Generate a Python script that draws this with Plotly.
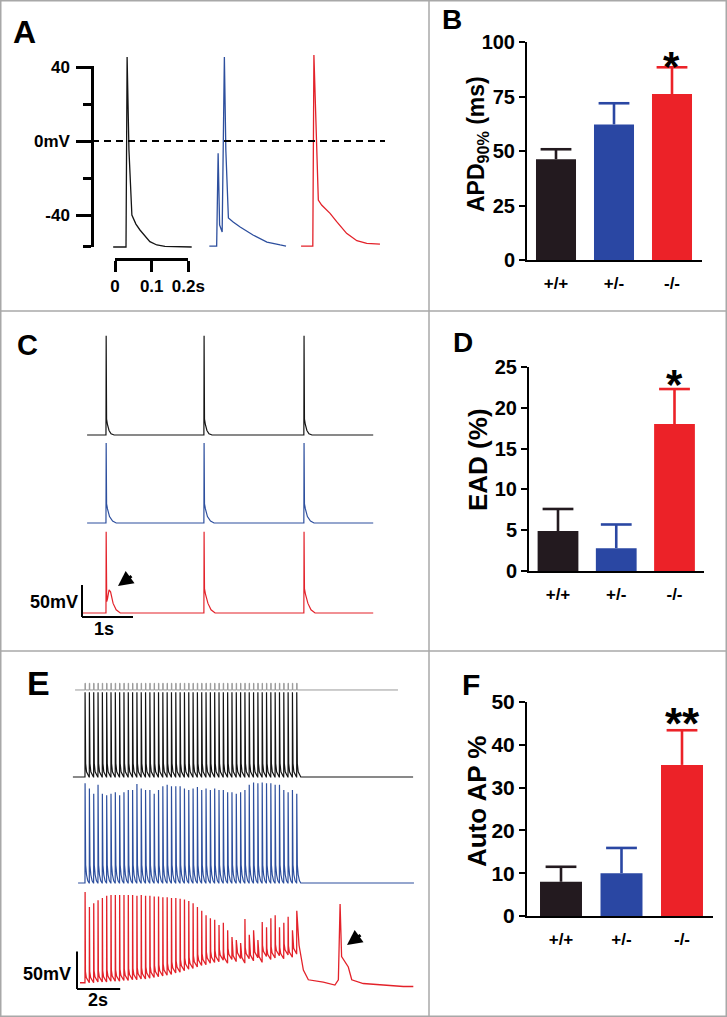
import plotly.graph_objects as go

W, H = 727, 1017


def fx(p):
    return p / W


def fy(p):
    return 1 - p / H


# ======================= DATA =======================
genotypes = ["+/+", "+/-", "-/-"]
bar_colors = ["#231a1f", "#2a47a3", "#ec2228"]
trace_colors = ["#141414", "#2d4f9e", "#e3222a"]

# Bar panels (mean, SEM)
apd90_mean = [46.2, 62.2, 76.1]
apd90_sem = [4.6, 9.7, 12.3]
ead_mean = [4.9, 2.8, 18.0]
ead_sem = [2.7, 2.9, 4.3]
auto_mean = [8.0, 10.0, 35.3]
auto_sem = [3.5, 5.9, 8.1]
sig_B = "*"
sig_D = "*"
sig_F = "**"

b_ticks = [0, 25, 50, 75, 100]
d_ticks = [0, 5, 10, 15, 20, 25]
f_ticks = [0, 10, 20, 30, 40, 50]

# Panel A: single action potentials (time in s, membrane potential in mV)
a_wt_t = [-0.005, 0.030, 0.033, 0.038, 0.046, 0.057, 0.068, 0.082, 0.095, 0.114, 0.136, 0.209]
a_wt_v = [-57.3, -57.3, 45.4, -4.9, -40.0, -44.9, -48.1, -51.4, -54.4, -56.2, -57.0, -57.3]
a_het_t = [0.257, 0.277, 0.281, 0.285, 0.292, 0.298, 0.302, 0.309, 0.322, 0.341, 0.376, 0.414, 0.450, 0.466]
a_het_v = [-56.8, -56.8, -6.6, -45.4, -49.2, 45.4, -4.9, -41.6, -43.8, -46.5, -50.8, -54.6, -56.2, -56.8]
a_ko_t = [0.507, 0.539, 0.542, 0.554, 0.563, 0.586, 0.604, 0.631, 0.659, 0.686, 0.722]
a_ko_v = [-56.8, -56.8, 46.5, -31.9, -34.6, -39.1, -43.6, -49.9, -53.9, -55.3, -55.7]
a_yticks = [40, 0, -40]
a_yticktext = ["40", "0mV", "-40"]
a_yminor = [20, -20, -57.2]
a_xticks = [0, 0.1, 0.2]
a_xticktext = ["0", "0.1", "0.2s"]

# Panel C: 0.5 Hz paced APs (time in s, deflection from rest in mV)
c_spike_times = [0.47, 2.39, 4.35]
c_wt_span = [0.10, 5.71]
c_het_span = [0.10, 5.71]
c_ko_span = [0.02, 5.71]
c_wt_tmpl_t = [0, 0.004, 0.012, 0.03, 0.06, 0.10, 0.16]
c_wt_tmpl_v = [0, 155, 25, 16, 7, 2, 0]
c_het_tmpl_t = [0, 0.004, 0.012, 0.03, 0.07, 0.13, 0.20]
c_het_tmpl_v = [0, 125, 30, 22, 10, 3, 0]
c_ko_tmpl_t = [0, 0.004, 0.012, 0.03, 0.08, 0.14, 0.22]
c_ko_tmpl_v = [0, 127, 38, 30, 15, 5, 0]
c_ko_ead_tmpl_t = [0, 0.004, 0.015, 0.03, 0.06, 0.09, 0.14, 0.20, 0.28]
c_ko_ead_tmpl_v = [0, 127, 18, 22, 36, 33, 15, 5, 0]
c_scale_mv = 50
c_scale_s = 1

# Panel E: 5 Hz burst pacing (time in s, deflection in mV)
e_stim_times = [0.37, 0.57, 0.77, 0.97, 1.17, 1.37, 1.57, 1.77, 1.97, 2.17,
                2.37, 2.57, 2.77, 2.97, 3.17, 3.37, 3.57, 3.77, 3.97, 4.17,
                4.37, 4.57, 4.77, 4.97, 5.17, 5.37, 5.57, 5.77, 5.97, 6.17,
                6.37, 6.57, 6.77, 6.97, 7.17, 7.37, 7.57, 7.77, 7.97, 8.17,
                8.37, 8.57, 8.77, 8.97, 9.17, 9.37, 9.57, 9.77, 9.97, 10.17]
e_stim_span = [-0.09, 14.86]
e_stim_pulse = 9
e_wt_span = [-0.19, 15.56]
e_wt_tmpl_t = [0, 0.004, 0.012, 0.03, 0.07, 0.13, 0.19]
e_wt_tmpl_v = [0, 113, 35, 18, 7, 2, 0]
e_het_span = [0.05, 15.6]
e_het_tmpl_t = [0, 0.004, 0.012, 0.03, 0.07, 0.13, 0.19]
e_het_tmpl_v = [0, 125, 48, 24, 11, 3, 0]
e_het_peaks = [133, 126, 119, 131, 119, 117, 119, 121, 117, 121,
               124, 124, 132, 126, 124, 124, 119, 124, 129, 131,
               129, 129, 129, 126, 124, 126, 128, 124, 126, 124,
               126, 124, 124, 121, 121, 119, 121, 124, 131, 134,
               133, 134, 133, 133, 131, 131, 124, 121, 124, 119]
e_ko_start = [0.14, 3]
e_ko_peaks = [124, 104, 109, 113, 116, 119, 120, 120, 120, 120,
              120, 120, 119, 120, 119, 119, 118, 118, 117, 117,
              116, 116, 115, 114, 112, 109, 104, 99, 93, 89,
              87, 80, 83, 73, 64, 60, 56, 88, 67, 73,
              60, 84, 77, 89, 93, 77, 83, 91, 73, 99]
e_ko_troughs = [3, 3, 3, 4, 4, 4, 5, 5, 5, 6,
                6, 7, 7, 8, 8, 9, 10, 11, 12, 13,
                14, 16, 17, 19, 21, 22, 24, 26, 27, 29,
                30, 31, 33, 29, 34, 32, 36, 30, 35, 33,
                37, 31, 38, 34, 36, 39, 35, 40, 37, 42]
e_ko_decay_t = [0.02, 0.06, 0.19]
e_ko_decay_v = [15, 7, 0]
e_ko_tail_t = [10.28, 10.48, 10.71, 11.40, 11.94, 12.10, 12.18, 12.25, 12.41, 12.56, 12.72, 13.25, 15.11, 15.57]
e_ko_tail_v = [53, 20, 7, 4, 0, 7, 108, 38, 31, 24, 7, 2, -2, -2]
e_scale_mv = 50
e_scale_s = 2

# ======================= LAYOUT CONSTANTS (pixels) =======================
A = dict(t0=115, pps=367, v0=141, ppm=1.85)
C = dict(t0=82, pps=51, v0=617, ppm=0.64)
E = dict(t0=77, pps=21.6, v0=989, ppm=0.75)
c_offsets = [284.4, 146.9, 6.25]
e_offsets = [282.7, 141.3, 5.3]
e_stim_offset = 398.7

FONT = "Liberation Sans"


def t_of(p, P):
    return (p - P["t0"]) / P["pps"]


def v_of(p, P):
    return (P["v0"] - p) / P["ppm"]


def train(span, times, tt, tv, peaks=None):
    xs, ys = [span[0]], [0.0]
    for i, ts in enumerate(times):
        vv = list(tv)
        if peaks is not None:
            vv[1] = peaks[i]
        for dt, dv in zip(tt, vv):
            xs.append(ts + dt)
            ys.append(dv)
    xs.append(span[1])
    ys.append(0.0)
    return xs, ys


def line(x, y, color, ax, width=1.3):
    return go.Scatter(x=x, y=y, mode="lines", line=dict(color=color, width=width),
                      xaxis="x" + ax, yaxis="y" + ax, hoverinfo="skip", showlegend=False)


fig = go.Figure()

# ---------- Panel A ----------
for t, v, c in [(a_wt_t, a_wt_v, trace_colors[0]), (a_het_t, a_het_v, trace_colors[1]),
                (a_ko_t, a_ko_v, trace_colors[2])]:
    fig.add_trace(line(t, v, c, ""))
fig.add_trace(go.Scatter(x=[None], y=[None], xaxis="x2", yaxis="y2", showlegend=False, hoverinfo="skip"))

# ---------- Panel C ----------
xs, ys = train(c_wt_span, c_spike_times, c_wt_tmpl_t, c_wt_tmpl_v)
fig.add_trace(line(xs, [v + c_offsets[0] for v in ys], trace_colors[0], "4", 1.2))
xs, ys = train(c_het_span, c_spike_times, c_het_tmpl_t, c_het_tmpl_v)
fig.add_trace(line(xs, [v + c_offsets[1] for v in ys], trace_colors[1], "4", 1.2))
xs, ys = [c_ko_span[0]], [0.0]
for i, ts in enumerate(c_spike_times):
    tt, tv = (c_ko_ead_tmpl_t, c_ko_ead_tmpl_v) if i == 0 else (c_ko_tmpl_t, c_ko_tmpl_v)
    for dt, dv in zip(tt, tv):
        xs.append(ts + dt)
        ys.append(dv)
xs.append(c_ko_span[1])
ys.append(0.0)
fig.add_trace(line(xs, [v + c_offsets[2] for v in ys], trace_colors[2], "4", 1.2))

# ---------- Panel E ----------
sx, sy = [e_stim_span[0]], [0]
for ts in e_stim_times:
    sx += [ts, ts, ts + 0.02, ts + 0.02]
    sy += [0, e_stim_pulse, e_stim_pulse, 0]
sx.append(e_stim_span[1])
sy.append(0)
fig.add_trace(line(sx, [v + e_stim_offset for v in sy], "#9a9a9a", "6", 1.0))

xs, ys = train(e_wt_span, e_stim_times, e_wt_tmpl_t, e_wt_tmpl_v)
fig.add_trace(line(xs, [v + e_offsets[0] for v in ys], trace_colors[0], "6", 1.2))
xs, ys = train(e_het_span, e_stim_times, e_het_tmpl_t, e_het_tmpl_v, e_het_peaks)
fig.add_trace(line(xs, [v + e_offsets[1] for v in ys], trace_colors[1], "6", 1.2))

xs, ys = [e_ko_start[0]], [e_ko_start[1]]
n = len(e_stim_times)
for k in range(n):
    ts = e_stim_times[k]
    xs += [ts, ts + 0.005]
    ys += [e_ko_troughs[k], e_ko_peaks[k]]
    if k < n - 1:
        nxt = e_ko_troughs[k + 1]
        for dt, dv in zip(e_ko_decay_t, e_ko_decay_v):
            xs.append(ts + dt)
            ys.append(nxt + dv)
xs += e_ko_tail_t
ys += e_ko_tail_v
fig.add_trace(line(xs, [v + e_offsets[2] for v in ys], trace_colors[2], "6", 1.3))

# ---------- Bar panels ----------
for ax, means, sems in [("3", apd90_mean, apd90_sem), ("5", ead_mean, ead_sem), ("7", auto_mean, auto_sem)]:
    bw = {"3": 0.69, "5": 0.70, "7": 0.694}[ax]
    for g, m, s, col in zip(genotypes, means, sems, bar_colors):
        fig.add_trace(go.Bar(
            x=[g], y=[m], width=bw, marker=dict(color=col, line=dict(width=0)),
            error_y=dict(type="data", array=[s], arrayminus=[0], symmetric=False,
                         color=col, thickness=2.6, width=0),
            xaxis="x" + ax, yaxis="y" + ax, hoverinfo="skip", showlegend=False))
        # error-bar cap (top only)
        fig.add_trace(go.Scatter(
            x=[g], y=[m + s], mode="markers",
            marker=dict(symbol="line-ew", size=22, line=dict(color=col, width=2.6)),
            xaxis="x" + ax, yaxis="y" + ax, hoverinfo="skip", showlegend=False, cliponaxis=False))

# ======================= AXES =======================
hidden = dict(visible=False, showgrid=False, zeroline=False, automargin=False)
bold = lambda s: dict(family=FONT, size=s, color="black", weight="bold")

layout_axes = dict(
    xaxis=dict(domain=[0, fx(429)], range=[t_of(0, A), t_of(429, A)], anchor="y", **hidden),
    yaxis=dict(domain=[fy(311), fy(0)], range=[v_of(311, A), v_of(0, A)], anchor="x", **hidden),
    xaxis2=dict(domain=[fx(A["t0"]), fx(A["t0"] + 0.2 * A["pps"])], range=[0, 0.2], anchor="free",
                position=fy(259), showline=True, linewidth=2.5, linecolor="black", ticks="outside",
                ticklen=11, tickwidth=2.5, tickcolor="black", tickvals=a_xticks, ticktext=a_xticktext,
                tickfont=bold(17), showgrid=False, zeroline=False, automargin=False),
    yaxis2=dict(domain=[fy(247), fy(66)], range=[v_of(247, A), v_of(66, A)], anchor="free",
                position=fx(92), showline=True, linewidth=2.5, linecolor="black", ticks="outside",
                ticklen=15, tickwidth=2.5, tickcolor="black", tickvals=a_yticks, ticktext=a_yticktext,
                minor=dict(tickvals=a_yminor, ticks="outside", ticklen=8, tickwidth=2.5, tickcolor="black"),
                ticklabelstandoff=3, tickfont=bold(17), showgrid=False, zeroline=False, automargin=False),
    xaxis4=dict(domain=[0, fx(429)], range=[t_of(0, C), t_of(429, C)], anchor="y4", **hidden),
    yaxis4=dict(domain=[fy(651), fy(311)], range=[v_of(651, C), v_of(311, C)], anchor="x4", **hidden),
    xaxis6=dict(domain=[0, fx(429)], range=[t_of(0, E), t_of(429, E)], anchor="y6", **hidden),
    yaxis6=dict(domain=[fy(1017), fy(651)], range=[v_of(1017, E), v_of(651, E)], anchor="x6", **hidden),
)


def bar_axes(ax, x0, x1, c0, step, ytop, ybot, yrange, ticks, tfs):
    xa = dict(domain=[fx(x0), fx(x1)], range=[(x0 - c0) / step, (x1 - c0) / step], anchor="y" + ax,
              type="category", categoryorder="array", categoryarray=genotypes,
              showline=True, linewidth=2, linecolor="black", ticks="", ticklabelstandoff=7,
              tickfont=bold(17), showgrid=False, zeroline=False, automargin=False)
    ya = dict(domain=[fy(ybot), fy(ytop)], range=yrange, anchor="x" + ax, showline=True, linewidth=2,
              linecolor="black", ticks="outside", ticklen=6, tickwidth=2, tickcolor="black",
              tickvals=ticks, tickfont=bold(tfs), showgrid=False, zeroline=False, automargin=False)
    return xa, ya


layout_axes["xaxis3"], layout_axes["yaxis3"] = bar_axes("3", 527, 702, 556, 58, 42, 260, [0, 100], b_ticks, 20)
layout_axes["xaxis5"], layout_axes["yaxis5"] = bar_axes("5", 529, 704, 558, 58.25, 367, 571, [0, 25], d_ticks, 20)
layout_axes["xaxis7"], layout_axes["yaxis7"] = bar_axes("7", 527, 713, 561, 60.5, 702, 916, [0, 50], f_ticks, 21)

# ======================= SHAPES =======================
shapes = []
gray = dict(color="#a8a8a8", width=1.5)
shapes.append(dict(type="rect", xref="paper", yref="paper", x0=fx(0.75), x1=fx(726.25), y0=fy(1016.25), y1=fy(0.75), line=gray))
shapes.append(dict(type="line", xref="paper", yref="paper", x0=fx(429), x1=fx(429), y0=0, y1=1, line=gray))
for yy in (311, 651):
    shapes.append(dict(type="line", xref="paper", yref="paper", x0=0, x1=1, y0=fy(yy), y1=fy(yy), line=gray))
# dashed 0 mV line in A
shapes.append(dict(type="line", xref="x", yref="y", x0=t_of(92, A), x1=t_of(385, A), y0=0, y1=0,
                   line=dict(color="black", width=2, dash="7px,5px")))
# scale bars C and E
for ax, smv, ss in [("4", c_scale_mv, c_scale_s), ("6", e_scale_mv, e_scale_s)]:
    shapes.append(dict(type="line", xref="x" + ax, yref="y" + ax, x0=0, x1=0, y0=0, y1=smv, line=dict(color="black", width=2)))
    shapes.append(dict(type="line", xref="x" + ax, yref="y" + ax, x0=0, x1=ss, y0=0, y1=0, line=dict(color="black", width=2)))

# ======================= ANNOTATIONS =======================
ann = []


def text(s, x, y, size, xanchor="center", angle=0):
    ann.append(dict(text=s, x=fx(x), y=fy(y), xref="paper", yref="paper", showarrow=False,
                    xanchor=xanchor, yanchor="middle", textangle=angle, font=bold(size)))


for lab, x, y, s in [("A", 11, 31.5, 32), ("B", 440, 19.5, 28), ("C", 15, 345, 29),
                     ("D", 451, 342, 28), ("E", 25, 682.5, 34), ("F", 460, 684, 30)]:
    text(lab, x, y, s, "left")

text("APD<sub>90%</sub> (ms)", 477, 144, 23, angle=-90)
text("EAD (%)", 478, 460, 26, angle=-90)
text("Auto AP %", 477, 802, 26, angle=-90)

text(sig_B, 671.7, 66, 42)
text(sig_D, 674.5, 385, 42)
text(sig_F, 682.5, 723, 44)

text("50mV", 80, 601.5, 18, "right")
text("1s", 104, 628.5, 18)
text("50mV", 73, 974, 18, "right")
text("2s", 98, 1000, 18)

for hx, hy in [(118, 586), (347, 945)]:
    ann.append(dict(x=fx(hx), y=fy(hy), xref="paper", yref="paper", text="", showarrow=True,
                    ax=15, ay=-11, arrowhead=2, arrowsize=1.0, arrowwidth=3, arrowcolor="black"))

fig.update_layout(
    template="none",
    width=W, height=H, margin=dict(l=0, r=0, t=0, b=0, pad=0, autoexpand=False),
    paper_bgcolor="white", plot_bgcolor="rgba(0,0,0,0)",
    barmode="overlay", showlegend=False, shapes=shapes, annotations=ann,
    font=dict(family=FONT, color="black"),
    **layout_axes,
)

fig.write_html(
    "out.html",
    config={"displayModeBar": False, "staticPlot": False},
    post_script="document.body.style.margin='0';document.body.style.padding='0';"
                "document.documentElement.style.overflow='hidden';",
)
